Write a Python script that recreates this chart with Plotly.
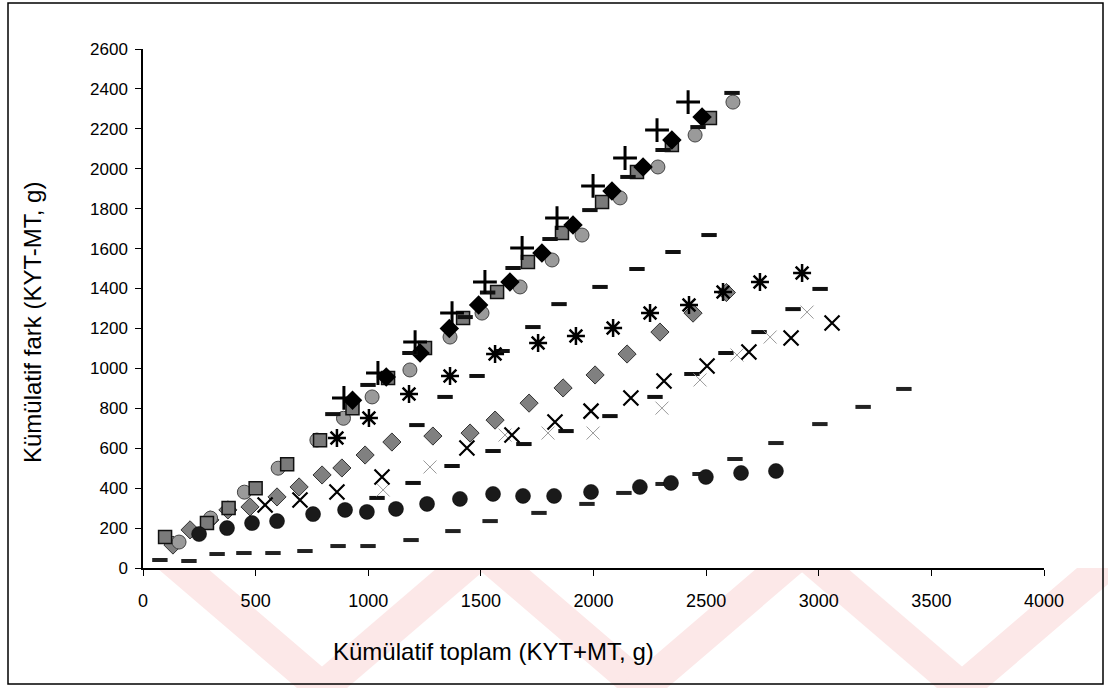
import plotly.graph_objects as go

# ---- data ----
plus_x = [892, 1043, 1208, 1372, 1518, 1683, 1838, 1998, 2140, 2282, 2420]
plus_y = [852, 977, 1132, 1277, 1433, 1603, 1753, 1914, 2054, 2194, 2334]

bdiam_x = [930, 1080, 1230, 1360, 1490, 1629, 1771, 1909, 2082, 2220, 2348, 2482]
bdiam_y = [840, 957, 1077, 1200, 1318, 1433, 1578, 1718, 1889, 2009, 2144, 2259]

gsq_x = [98, 284, 380, 500, 640, 786, 930, 1088, 1252, 1421, 1572, 1709, 1860, 2038, 2193, 2348, 2517]
gsq_y = [155, 225, 300, 400, 520, 640, 800, 952, 1102, 1252, 1383, 1533, 1678, 1833, 1984, 2119, 2254]

gcir_x = [160, 300, 450, 600, 772, 890, 1017, 1185, 1363, 1505, 1674, 1816, 1949, 2118, 2286, 2451, 2619]
gcir_y = [130, 250, 380, 500, 641, 750, 857, 992, 1157, 1277, 1408, 1543, 1668, 1854, 2009, 2169, 2334]

dtop_x = [843, 999, 1185, 1430, 1530, 1643, 1807, 1984, 2153, 2309, 2464, 2615]
dtop_y = [771, 917, 1077, 1257, 1380, 1503, 1648, 1793, 1959, 2094, 2209, 2380]

dA_x = [1216, 1341, 1483, 1594, 1731, 1847, 2029, 2193, 2353, 2513]
dA_y = [716, 857, 962, 1087, 1207, 1322, 1408, 1498, 1583, 1668]

dB_x = [1039, 1199, 1372, 1554, 1691, 1878, 2073, 2273, 2437, 2588, 2735, 2886, 3006]
dB_y = [351, 426, 511, 586, 621, 686, 761, 857, 972, 1077, 1182, 1297, 1398]

dC_x = [75, 204, 329, 448, 577, 719, 866, 999, 1190, 1376, 1541, 1758, 1971, 2135,
        2309, 2473, 2628, 2810, 3005, 3197, 3378]
dC_y = [40, 35, 70, 75, 75, 85, 110, 110, 140, 185, 235, 276, 321, 376,
        421, 471, 546, 626, 721, 807, 897]

bcir_x = [249, 373, 484, 595, 755, 897, 994, 1123, 1261, 1407, 1554, 1687, 1825, 1989,
          2206, 2344, 2499, 2655, 2810]
bcir_y = [170, 200, 225, 235, 270, 291, 281, 296, 321, 346, 371, 361, 361, 381,
          406, 426, 456, 476, 486]

bx_x = [542, 697, 861, 1061, 1438, 1638, 1829, 1989, 2166, 2313, 2504, 2690, 2877, 3059]
bx_y = [316, 341, 381, 456, 601, 666, 731, 786, 852, 937, 1012, 1082, 1152, 1227]

fx_x = [1066, 1274, 1607, 1798, 1998, 2304, 2473, 2637, 2784, 2948]
fx_y = [391, 506, 666, 676, 676, 801, 942, 1067, 1157, 1282]

ast_x = [861, 1003, 1181, 1363, 1563, 1754, 1922, 2087, 2251, 2424, 2575, 2739, 2926]
ast_y = [651, 751, 872, 962, 1072, 1127, 1162, 1202, 1277, 1317, 1383, 1433, 1478]

gdiam_x = [133, 209, 297, 377, 475, 595, 693, 795, 883, 986, 1105, 1287, 1452, 1563,
           1714, 1865, 2007, 2149, 2295, 2442, 2590]
gdiam_y = [115, 191, 241, 291, 306, 356, 406, 466, 501, 566, 631, 661, 676, 741,
           826, 902, 967, 1072, 1182, 1277, 1380]

x_ticks = [0, 500, 1000, 1500, 2000, 2500, 3000, 3500, 4000]
y_ticks = list(range(0, 2601, 200))

FONT = "Liberation Sans, Arial, sans-serif"

# plot-area geometry (pixels) used only to place decorations in paper coords
L, R, T, B = 143, 1044, 49, 568
def px(x):
    return (x - L) / (R - L)
def py(y):
    return (B - y) / (B - T)

fig = go.Figure()

# faint watermark stripes at the bottom of the page
wm_bottoms = [322, 642, 962]
for xb in wm_bottoms:
    for sgn in (-1, 1):
        x_top = xb + sgn * 140
        pts = [(x_top - 25, 568), (x_top + 25, 568), (xb + 25, 688), (xb - 25, 688)]
        path = "M " + " L ".join(f"{px(a):.4f},{py(b):.4f}" for a, b in pts) + " Z"
        fig.add_shape(type="path", path=path, xref="paper", yref="paper",
                      fillcolor="#fce8e8", line=dict(width=0), layer="below")

def add(x, y, symbol, size, color, lcolor="black", lwidth=0):
    fig.add_trace(go.Scatter(
        x=x, y=y, mode="markers", showlegend=False, hoverinfo="skip",
        marker=dict(symbol=symbol, size=size, color=color,
                    line=dict(color=lcolor, width=lwidth))))

# order roughly back to front
add(dC_x, dC_y, "line-ew", 11, "black", "#222", 4)
add(dB_x, dB_y, "line-ew", 11, "black", "#111", 4)
add(dA_x, dA_y, "line-ew", 11, "black", "#111", 4)
add(fx_x, fx_y, "x-thin", 13, "#999", "#9a9a9a", 1)
add(gdiam_x, gdiam_y, "diamond", 14, "#808080", "#333", 1)
add(gcir_x, gcir_y, "circle", 14, "#9a9a9a", "#444", 1)
add(gsq_x, gsq_y, "square", 13, "#7a7a7a", "#111", 1.5)
add(bdiam_x, bdiam_y, "diamond", 15, "black", "black", 0)
add(dtop_x, dtop_y, "line-ew", 11, "black", "#111", 4)
add(bcir_x, bcir_y, "circle", 15, "#1a1a1a", "#000", 0.5)
add(bx_x, bx_y, "x-thin", 15, "black", "black", 2.2)
add(ast_x, ast_y, "asterisk", 15, "black", "black", 2.5)
add(plus_x, plus_y, "cross-thin", 17, "black", "black", 3)

# outer frame
fig.add_shape(type="rect", xref="paper", yref="paper",
              x0=px(8), x1=px(1103), y0=py(684), y1=py(3),
              line=dict(color="black", width=1.5), fillcolor="rgba(0,0,0,0)")

fig.update_layout(
    width=1108, height=688,
    margin=dict(l=L, r=1108 - R, t=T, b=688 - B),
    paper_bgcolor="white", plot_bgcolor="rgba(0,0,0,0)",
    font=dict(family=FONT, size=17, color="black"),
    xaxis=dict(range=[0, 4000], tickvals=x_ticks, ticktext=[str(v) for v in x_ticks],
               showgrid=False, zeroline=False, showline=True, linecolor="black",
               linewidth=1.5, ticks="outside", ticklen=6, tickcolor="black",
               tickfont=dict(size=18), ticklabelstandoff=10),
    yaxis=dict(range=[0, 2600], tickvals=y_ticks, ticktext=[str(v) for v in y_ticks],
               showgrid=False, zeroline=False, showline=True, linecolor="black",
               linewidth=1.5, ticks="outside", ticklen=6, tickcolor="black",
               tickfont=dict(size=17), ticklabelstandoff=4),
    annotations=[
        dict(text="Kümülatif toplam (KYT+MT, g)", xref="paper", yref="paper",
             x=px(493), y=py(651), showarrow=False,
             xanchor="center", yanchor="middle", font=dict(size=24)),
        dict(text="Kümülatif fark (KYT-MT, g)", xref="paper", yref="paper",
             x=px(33), y=py(323), showarrow=False, textangle=-90,
             xanchor="center", yanchor="middle", font=dict(size=24)),
    ],
)

fig.write_html("out.html")
